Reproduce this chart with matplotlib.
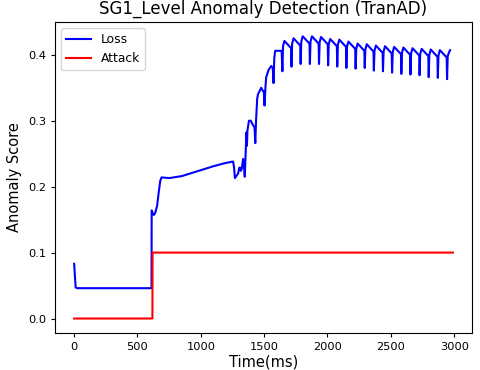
import matplotlib
matplotlib.use("Agg")
import matplotlib.pyplot as plt

# loss curve vertices
loss_t = [0, 12, 25, 611, 612, 620, 629, 640, 655, 668, 680, 690, 750, 850, 916,
          1000, 1047, 1100, 1177, 1250, 1255, 1262, 1269, 1280, 1295, 1302, 1308,
          1315, 1322, 1334, 1340, 1347, 1352, 1355, 1360, 1364, 1368, 1380, 1394,
          1410, 1424, 1430, 1436, 1445, 1451, 1477, 1490, 1497, 1503, 1510, 1516,
          1535, 1556, 1568, 1574, 1580, 1587, 1638,
          1644, 1649, 1660, 1713,
          1716, 1721, 1732, 1785,
          1788, 1793, 1804, 1858,
          1861, 1866, 1877, 1930,
          1933, 1938, 1949, 2002,
          2005, 2010, 2021, 2074,
          2077, 2082, 2093, 2146,
          2149, 2154, 2165, 2219,
          2222, 2227, 2238, 2291,
          2294, 2299, 2310, 2363,
          2366, 2371, 2382, 2435,
          2438, 2443, 2454, 2507,
          2510, 2515, 2526, 2580,
          2583, 2588, 2599, 2652,
          2655, 2660, 2671, 2724,
          2727, 2732, 2743, 2796,
          2799, 2804, 2815, 2868,
          2871, 2876, 2887, 2941,
          2944, 2949, 2960, 2968]
loss_v = [0.083, 0.047, 0.046, 0.046, 0.164, 0.160, 0.157, 0.160, 0.171, 0.192,
          0.209, 0.214, 0.213, 0.216, 0.220, 0.225, 0.228, 0.231, 0.235, 0.238,
          0.238, 0.230, 0.213, 0.216, 0.220, 0.228, 0.229, 0.224, 0.226, 0.242,
          0.232, 0.215, 0.240, 0.255, 0.282, 0.262, 0.285, 0.300, 0.300, 0.294,
          0.290, 0.266, 0.300, 0.333, 0.340, 0.350, 0.345, 0.345, 0.323, 0.350,
          0.366, 0.377, 0.383, 0.380, 0.357, 0.395, 0.406, 0.406,
          0.375, 0.413, 0.421, 0.410,
          0.382, 0.417, 0.425, 0.414,
          0.386, 0.420, 0.428, 0.417,
          0.386, 0.420, 0.428, 0.417,
          0.386, 0.419, 0.427, 0.416,
          0.384, 0.416, 0.424, 0.413,
          0.382, 0.415, 0.423, 0.412,
          0.380, 0.412, 0.420, 0.409,
          0.379, 0.409, 0.417, 0.406,
          0.380, 0.408, 0.416, 0.405,
          0.376, 0.406, 0.414, 0.403,
          0.375, 0.405, 0.413, 0.402,
          0.373, 0.404, 0.412, 0.401,
          0.371, 0.403, 0.411, 0.400,
          0.370, 0.402, 0.410, 0.399,
          0.369, 0.401, 0.409, 0.398,
          0.366, 0.400, 0.408, 0.397,
          0.365, 0.399, 0.407, 0.396,
          0.363, 0.398, 0.404, 0.407]

# attack label (0 = normal, 0.1 = attack)
attack_t = [0, 618, 619, 2990]
attack_v = [0.0, 0.0, 0.1, 0.1]

fig, ax = plt.subplots(figsize=(4.8, 3.7), dpi=100)
fig.subplots_adjust(left=0.115, right=0.983, bottom=0.101, top=0.94)

ax.plot(loss_t, loss_v, color="blue", lw=1.5, label="Loss")
ax.plot(attack_t, attack_v, color="red", lw=1.5, label="Attack")

ax.set_title("SG1_Level Anomaly Detection (TranAD)", fontsize=12)
ax.set_xlabel("Time(ms)", fontsize=10.5, labelpad=1.5)
ax.set_ylabel("Anomaly Score", fontsize=10.5)
ax.set_xticks([0, 500, 1000, 1500, 2000, 2500, 3000])
ax.set_yticks([0.0, 0.1, 0.2, 0.3, 0.4])
ax.tick_params(labelsize=8.2, length=3.2)
ax.legend(loc="upper left", fontsize=8.8)

fig.savefig("out.png")
